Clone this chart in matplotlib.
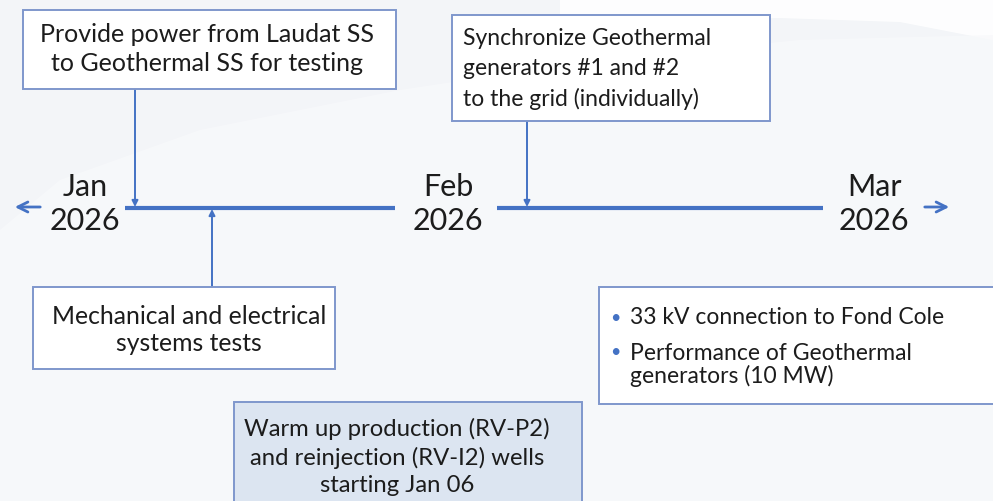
import matplotlib.pyplot as plt
from matplotlib.patches import Rectangle, Polygon

plt.rcParams["font.family"] = ["Lato", "DejaVu Sans"]

# timeline labels
months = ["Jan", "Feb", "Mar"]
years = ["2026", "2026", "2026"]

# milestone boxes
top_left_text = "Provide power from Laudat SS\nto Geothermal SS for testing"
top_mid_text = "Synchronize Geothermal\ngenerators #1 and #2\nto the grid (individually)"
low_left_text = "Mechanical and electrical\nsystems tests"
low_mid_text = "Warm up production (RV-P2)\nand reinjection (RV-I2) wells\nstarting Jan 06"
right_bullets = ["33 kV connection to Fond Cole",
                 "Performance of Geothermal\ngenerators (10 MW)"]

# layout in pixel coords (y grows downward)
W, H = 993, 501
line_y = 208
month_x = [85, 448, 874]
blue = "#4472C4"
edge = "#7F97CC"
txt = "#1c1c1c"

fig = plt.figure(figsize=(W / 100, H / 100), dpi=100)
fig.patch.set_facecolor("#f3f5f8")
ax = fig.add_axes([0, 0, 1, 1])
ax.set_xlim(0, W)
ax.set_ylim(H, 0)
ax.axis("off")

# soft background swoosh
ax.add_patch(Polygon([(560, 0), (993, 0), (993, 40), (900, 22), (780, 18), (650, 20), (560, 40)],
                     closed=True, facecolor="white", edgecolor="none", alpha=0.9, zorder=0))
ax.add_patch(Polygon([(0, 230), (60, 180), (200, 130), (400, 90), (600, 60), (800, 40), (993, 35),
                      (993, 501), (0, 501)], closed=True, facecolor="#f8f9fb",
                     edgecolor="none", alpha=0.8, zorder=0))

# timeline segments
ax.plot([125, 395], [line_y, line_y], color=blue, lw=3, solid_capstyle="butt", zorder=2)
ax.plot([497, 823], [line_y, line_y], color=blue, lw=3, solid_capstyle="butt", zorder=2)
ax.annotate("", xy=(12, line_y - 1), xytext=(43, line_y - 1),
            arrowprops=dict(arrowstyle="->", color=blue, lw=2, mutation_scale=18))
ax.annotate("", xy=(952, line_y - 1), xytext=(922, line_y - 1),
            arrowprops=dict(arrowstyle="->", color=blue, lw=2, mutation_scale=18))

for x, m, yr in zip(month_x, months, years):
    ax.text(x, 187, m, ha="center", va="center", fontsize=22, color=txt)
    ax.text(x, 221, yr, ha="center", va="center", fontsize=22, color=txt)


def box(x0, y0, x1, y1, face="white"):
    ax.add_patch(Rectangle((x0, y0), x1 - x0, y1 - y0, facecolor=face,
                           edgecolor=edge, lw=1.4, zorder=3))


def connector(x, y_from, y_to):
    ax.annotate("", xy=(x, y_to), xytext=(x, y_from),
                arrowprops=dict(arrowstyle="-|>", color=blue, lw=1.4,
                                mutation_scale=9, shrinkA=0, shrinkB=0), zorder=2)


# top-left box
box(23, 10, 396, 89)
ax.text(207, 49, top_left_text, ha="center", va="center", fontsize=18,
        color=txt, linespacing=1.3, zorder=4)
connector(135, 89, line_y - 1)

# top-middle box
box(452, 15, 770, 121)
ax.text(463, 69, top_mid_text, ha="left", va="center", fontsize=16.5,
        color=txt, linespacing=1.52, zorder=4)
connector(527, 121, line_y - 1)

# lower-left box
box(33, 287, 335, 369)
ax.text(189, 330, low_left_text, ha="center", va="center", fontsize=17.8,
        color=txt, linespacing=1.26, zorder=4)
connector(212, 287, line_y + 1)

# right bullet box
box(599, 287, 1000, 404)
ax.text(615, 318, "\u2022", ha="center", va="center", fontsize=13, color=blue, zorder=4)
ax.text(630, 318, right_bullets[0], ha="left", va="center", fontsize=16.5, color=txt, zorder=4)
ax.text(615, 352, "\u2022", ha="center", va="center", fontsize=13, color=blue, zorder=4)
ax.text(630, 365, right_bullets[1], ha="left", va="center", fontsize=16.5, color=txt,
        linespacing=1.1, zorder=4)

# lower-middle box
box(234, 402, 582, 520, face="#DCE5F1")
ax.text(397, 457, low_mid_text, ha="center", va="center", fontsize=17.2,
        color=txt, linespacing=1.35, zorder=4)

plt.savefig("out.png", dpi=100, facecolor=fig.get_facecolor())
